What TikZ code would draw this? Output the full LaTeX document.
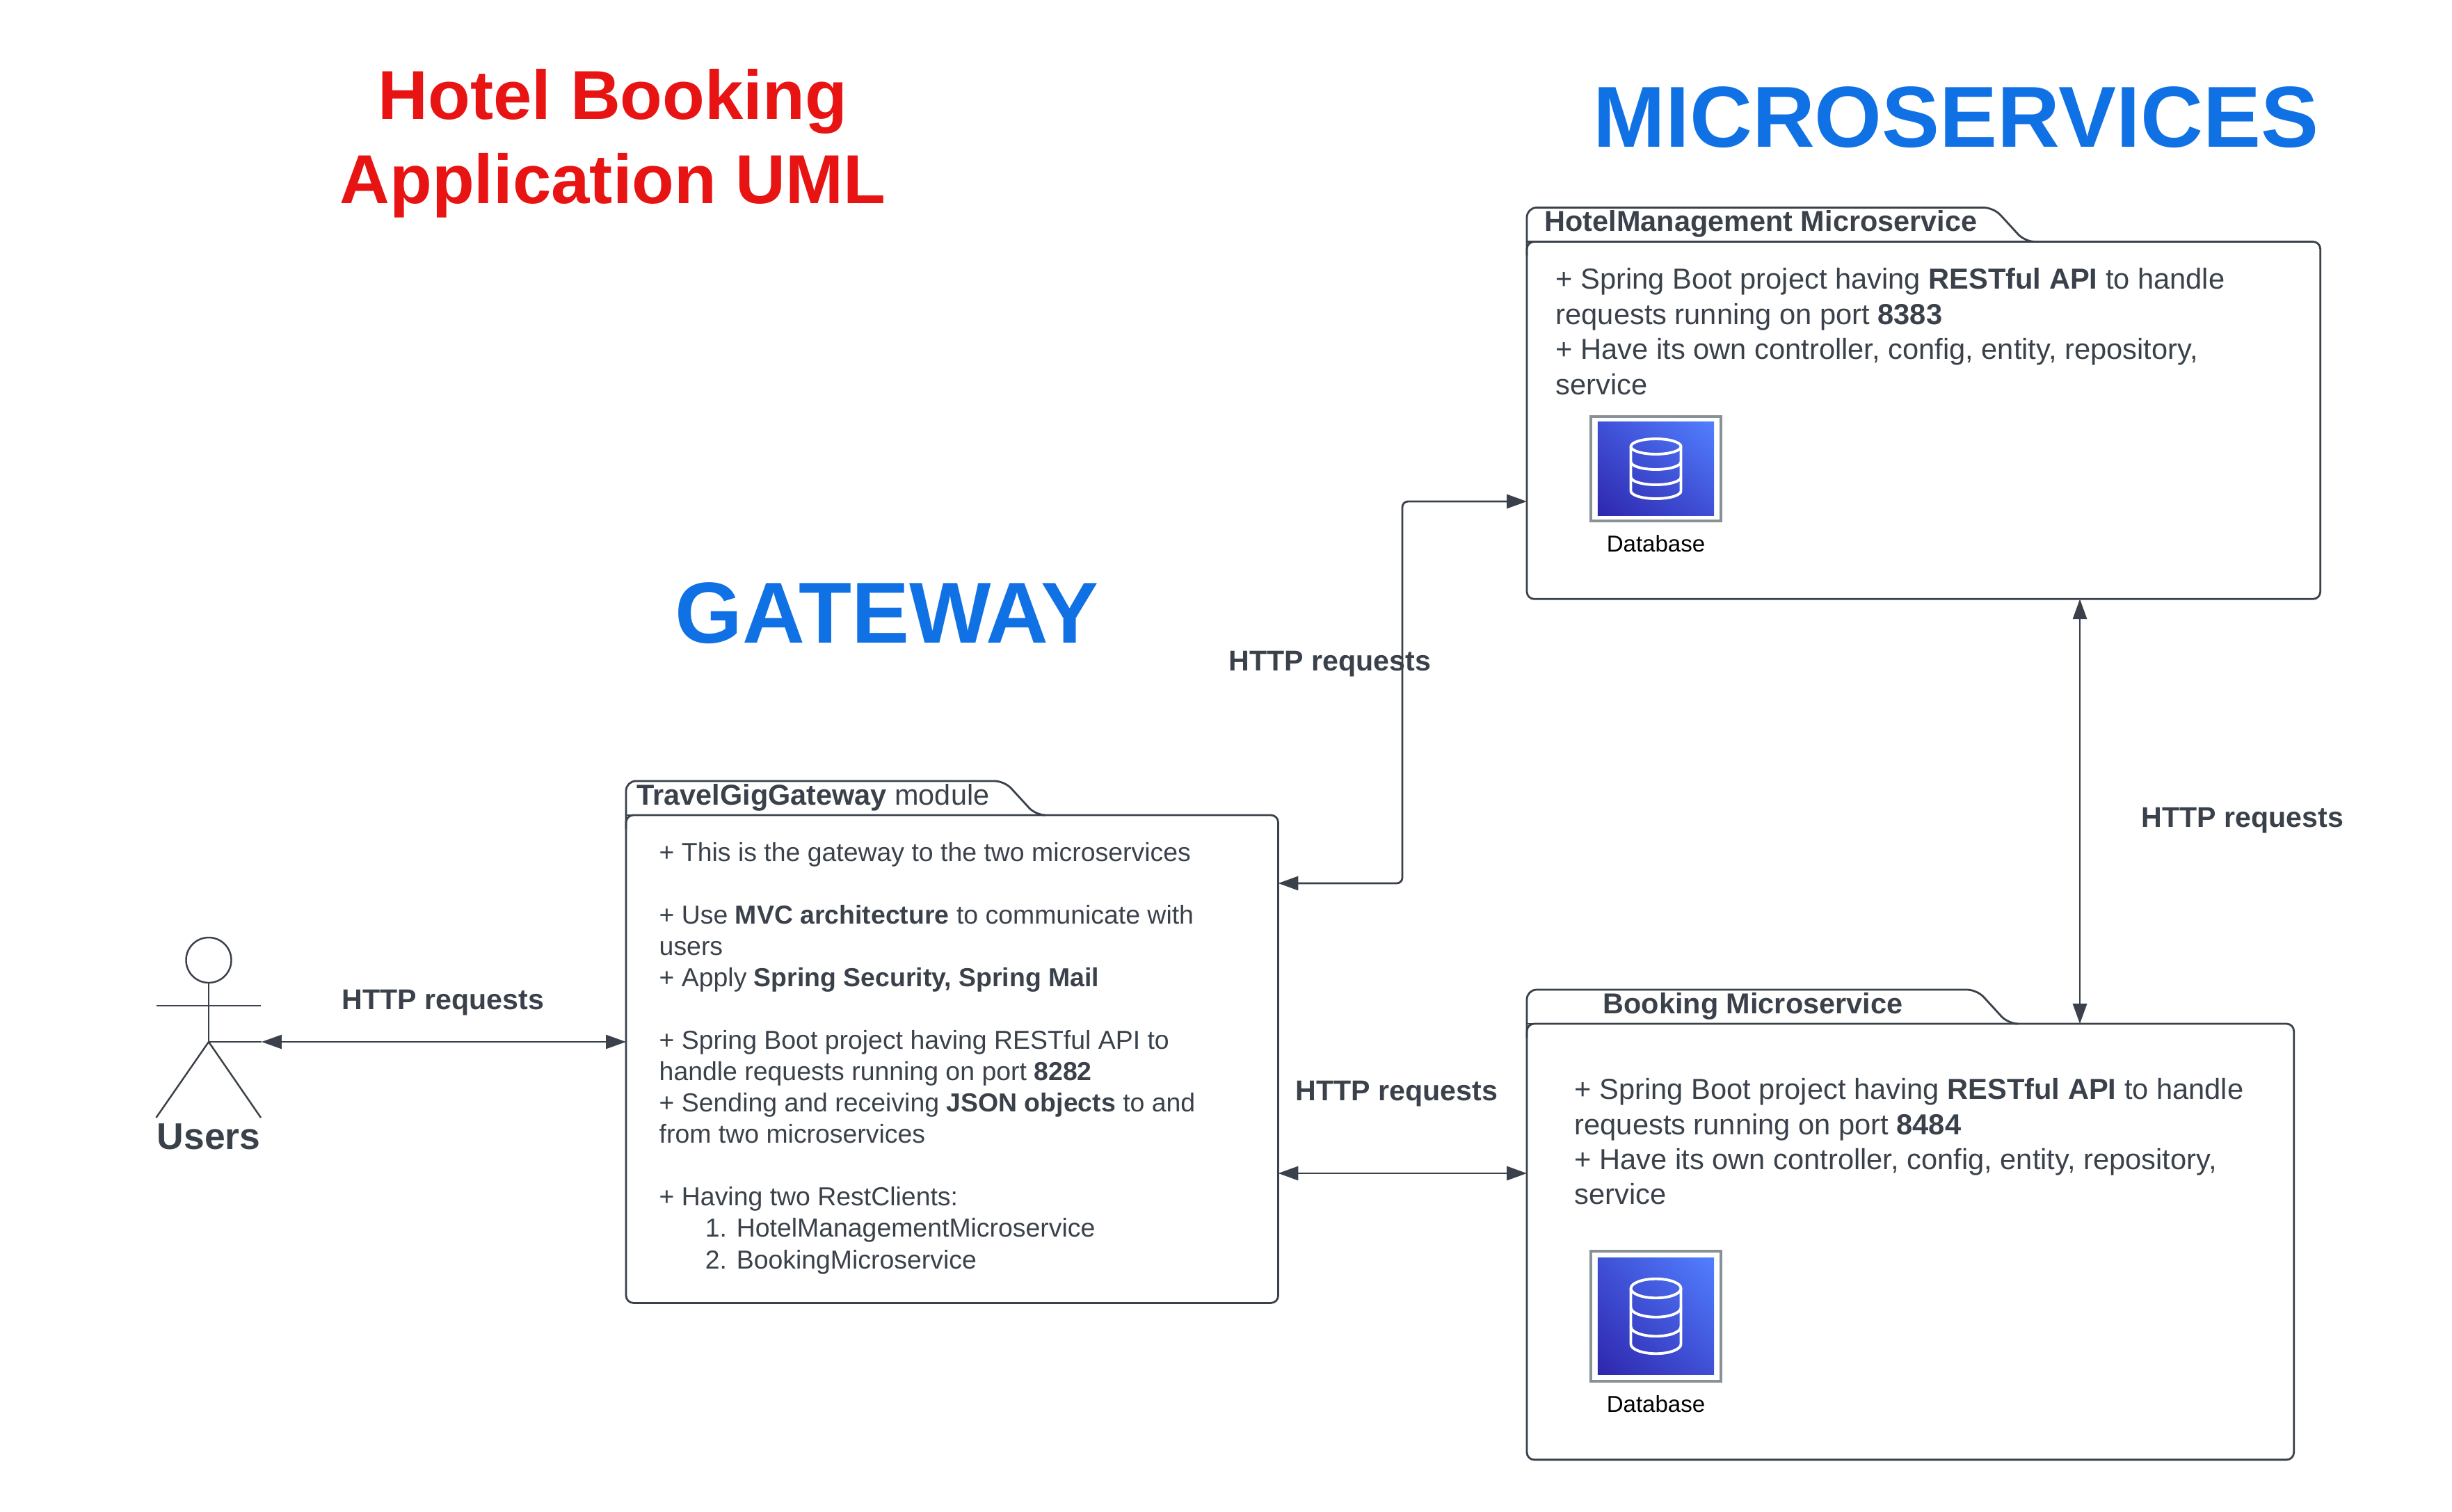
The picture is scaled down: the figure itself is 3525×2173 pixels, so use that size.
\documentclass[tikz,border=0pt]{standalone}
\usepackage{fontspec}
\setmainfont{Liberation Sans}
\usepackage{tikz}
\usetikzlibrary{positioning,arrows.meta,shadings}

\definecolor{inkgray}{HTML}{3A414A}
\definecolor{titlered}{HTML}{E81313}
\definecolor{titleblue}{HTML}{1071E5}
\definecolor{dbdark}{HTML}{2E27AD}
\definecolor{dbmid}{HTML}{3F50D6}
\definecolor{dblight}{HTML}{527FFF}
\definecolor{dbgray}{HTML}{879196}

\newcommand{\pkgtab}[2]{
  \draw[pkgline, rounded corners=4pt] (#1.north west) ++(0,20) -- ++(0,-69) -- ++(#2,0)
        -- ++(45,49) -- ++(10,0);
  \draw[pkgline] (#1.north west) -- ++(#2,0) -- ++(45,0);
}
\newcommand{\dbicon}[5]{
  \node[dbframe, minimum height=#3] (#1frame) at (2380.5,#2) {};
  \node[dbfill, minimum height=#4]  (#1fill)  at (#1frame) {};
  \begin{scope}[shift={(#1frame.center)}, yscale=#5]
    \draw[dbline] (0,-32) ellipse [x radius=36, y radius=11];
    \draw[dbline] (-36,-32) -- (-36,32) arc [start angle=180, end angle=0, x radius=36, y radius=11] -- (36,-32);
    \draw[dbline] (-36,-10) arc [start angle=180, end angle=0, x radius=36, y radius=11];
    \draw[dbline] (-36,12) arc [start angle=180, end angle=0, x radius=36, y radius=11];
  \end{scope}
}

\begin{document}
\begin{tikzpicture}[x=0.01cm,y=-0.01cm,>={Triangle[length=8.2pt,width=5.7pt]},
                    pkgbox/.style={draw=inkgray,line width=0.8pt,rounded corners=3pt,anchor=north west,inner sep=0pt,outer sep=0pt},
                    pkgline/.style={draw=inkgray,line width=0.8pt},
                    pkgtitle/.style={text=inkgray,anchor=west,inner sep=0pt,font=\fontsize{11.78}{14}\selectfont},
                    pkgtext/.style={text=inkgray,anchor=north west,align=left,inner sep=0pt},
                    httplink/.style={<->,draw=inkgray,line width=0.8pt},
                    httplabel/.style={text=inkgray,inner sep=0pt,font=\fontsize{11.7}{14}\selectfont\bfseries},
                    bigtitle/.style={inner sep=0pt,align=center,font=\fontsize{35.4}{43}\selectfont\bfseries,text=titleblue},
                    actorline/.style={draw=inkgray,line width=0.7pt},
                    dbframe/.style={draw=dbgray,line width=1.1pt,fill=white,minimum width=1.87cm,inner sep=0pt,outer sep=0pt},
                    dbfill/.style={shade,inner sep=0pt,minimum width=1.67cm,lower left=dbdark,upper right=dblight,upper left=dbmid,lower right=dbmid},
                    dbline/.style={draw=white,line width=1.1pt},
                    dblabel/.style={inner sep=0pt,text=black,font=\fontsize{9.4}{11}\selectfont}]
  \useasboundingbox (0,0) rectangle (3525,2173);

  \node[bigtitle, text=titlered, font=\fontsize{28.3}{34.5}\selectfont\bfseries] (apptitle) at (881,206) {Hotel Booking\\Application UML};
  \node[bigtitle] (mstitle) at (2812,169) {MICROSERVICES};
  \node[bigtitle] (gwtitle) at (1275,882) {GATEWAY};

  \node[pkgbox, minimum width=11.40cm, minimum height=5.135cm] (hotel)   at (2195,347.5) {};
  \node[pkgbox, minimum width=9.37cm,  minimum height=7.01cm]  (gateway) at (900,1172)   {};
  \node[pkgbox, minimum width=11.02cm, minimum height=6.265cm] (booking) at (2195,1472)  {};

  \pkgtab{hotel}{671}
  \pkgtab{gateway}{544}
  \pkgtab{booking}{647}

  \node[pkgtitle] (hotelname)   at (2220,322)  {\textbf{HotelManagement Microservice}};
  \node[pkgtitle] (gatewayname) at (915,1147)  {\textbf{TravelGigGateway} module};
  \node[pkgtitle] (bookingname) at (2304,1447) {\textbf{Booking Microservice}};

  \node[pkgtext, font=\fontsize{11.84}{14.37}\selectfont] (hoteltext) at (2236,385)
    {+ Spring Boot project having \textbf{RESTful API} to handle\\
     requests running on port \textbf{8383}\\
     + Have its own controller, config, entity, repository,\\
     service};
  \node[pkgtext, font=\fontsize{11.84}{14.3}\selectfont] (bookingtext) at (2263,1550)
    {+ Spring Boot project having \textbf{RESTful API} to handle\\
     requests running on port \textbf{8484}\\
     + Have its own controller, config, entity, repository,\\
     service};
  \node[pkgtext, font=\fontsize{10.64}{12.8}\selectfont] (gatewaytext) at (947,1211)
    {+ This is the gateway to the two microservices\\
     \mbox{}\\
     + Use \textbf{MVC architecture} to communicate with\\
     users\\
     + Apply \textbf{Spring Security, Spring Mail}\\
     \mbox{}\\
     + Spring Boot project having RESTful API to\\
     handle requests running on port \textbf{8282}\\
     + Sending and receiving \textbf{JSON objects} to and\\
     from two microservices\\
     \mbox{}\\
     + Having two RestClients:\\
     \hspace*{0.66cm}1. HotelManagementMicroservice\\
     \hspace*{0.66cm}2. BookingMicroservice};

  \dbicon{hoteldb}{674}{1.50cm}{1.34cm}{1}
  \dbicon{bookingdb}{1892.5}{1.87cm}{1.67cm}{1.25}
  \node[dblabel] (hoteldblabel)   [below=0.2cm of hoteldbframe]   {Database};
  \node[dblabel] (bookingdblabel) [below=0.2cm of bookingdbframe] {Database};

  \node[circle, actorline, minimum size=0.65cm, inner sep=0pt, outer sep=0pt] (head) at (300,1380.5) {};
  \coordinate (hip)  at (300,1498);
  \coordinate (arml) at (224.5,1446);
  \coordinate (armr) at (375,1446);
  \coordinate (legl) at (224.5,1607);
  \coordinate (legr) at (375,1607);
  \coordinate (userend) at (376,1498);
  \draw[actorline] (head) -- (hip);
  \draw[actorline] (arml) -- (armr);
  \draw[actorline] (legl) -- (hip) -- (legr);
  \node[text=inkgray, inner sep=0pt, font=\fontsize{15.2}{18}\selectfont\bfseries] (users) at (300,1634) {Users};

  \coordinate (hotelport)   at (2016,721);
  \coordinate (gatewayport) at (2016,1270);
  \coordinate (bookingport) at (2016,1687);
  \coordinate (vlink)       at (2990,1176);

  \draw[httplink, line width=0.6pt] (userend) -- (gateway.west |- userend);
  \draw[actorline, line width=0.6pt] (hip) -- (userend);
  \draw[httplink, rounded corners=2.3pt] (gateway.east |- gatewayport) -- (gatewayport) -- (hotelport) -- (hotel.west |- hotelport);
  \draw[httplink] (gateway.east |- bookingport) -- (booking.west |- bookingport);
  \draw[httplink] (hotel.south -| vlink) -- (booking.north -| vlink);

  \node[httplabel] (userhttp)  at (637,1442)  {HTTP requests};
  \node[httplabel] (hotelhttp) at (1912,955)  {HTTP requests};
  \node[httplabel] (bookhttp)  at (2008,1573) {HTTP requests};
  \node[httplabel] (vhttp)     at (3224,1180) {HTTP requests};
\end{tikzpicture}
\end{document}
